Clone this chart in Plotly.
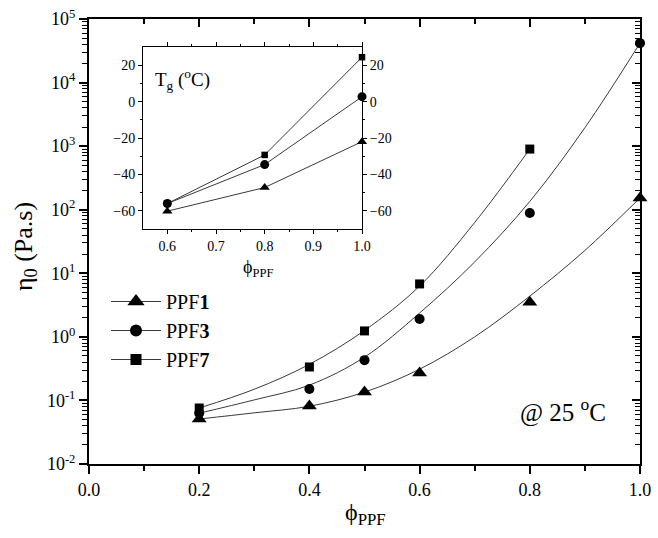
import plotly.graph_objects as go

# ---------------- data ----------------
phi_ppf1 = [0.2, 0.4, 0.5, 0.6, 0.8, 1.0]
eta_ppf1 = [0.051, 0.082, 0.136, 0.27, 3.5, 153]

phi_ppf3 = [0.2, 0.4, 0.5, 0.6, 0.8, 1.0]
eta_ppf3 = [0.063, 0.151, 0.43, 1.91, 89, 41700]

phi_ppf7 = [0.2, 0.4, 0.5, 0.6, 0.8]
eta_ppf7 = [0.076, 0.336, 1.24, 6.8, 900]

# fitted curves
fit_phi_long = [0.2, 0.3, 0.4, 0.5, 0.6, 0.7, 0.8, 0.9, 1.0]
fit_ppf1 = [0.051, 0.0638, 0.081, 0.135, 0.31, 1.0, 4.37, 22.9, 153]
fit_ppf3 = [0.063, 0.102, 0.174, 0.48, 2.37, 15.1, 135, 1950, 41700]
fit_phi_short = [0.2, 0.3, 0.4, 0.5, 0.6, 0.7, 0.8]
fit_ppf7 = [0.076, 0.15, 0.37, 1.26, 6.3, 63, 900]

# inset: glass transition temperature
tg_phi = [0.6, 0.8, 1.0]
tg_ppf1 = [-60.2, -47.2, -22.0]
tg_ppf3 = [-56.0, -34.6, 2.7]
tg_ppf7 = [-56.0, -29.3, 24.4]

x_ticks = [0.0, 0.2, 0.4, 0.6, 0.8, 1.0]
x_ticktext = ["0.0", "0.2", "0.4", "0.6", "0.8", "1.0"]
y_exponents = [-2, -1, 0, 1, 2, 3, 4, 5]
inset_x_ticks = [0.6, 0.7, 0.8, 0.9, 1.0]
inset_x_ticktext = ["0.6", "0.7", "0.8", "0.9", "1.0"]
inset_y_ticks = [-60, -40, -20, 0, 20]

series_names = ["PPF<b>1</b>", "PPF<b>3</b>", "PPF<b>7</b>"]
symbols = ["triangle-up", "circle", "square"]

# ---------------- figure ----------------
FONT = "Liberation Serif"
LINE_COL = "#3a3a3a"
W, H = 658, 538
L, R, T, B = 89, 18, 19, 74
PW, PH = W - L - R, H - T - B


def px(xp):
    return (xp - L) / PW


def py(yp):
    return (H - B - yp) / PH


def tf(size):
    return dict(family=FONT, size=size, color="black")


fig = go.Figure()

# fitted lines
for xs, ys in [(fit_phi_long, fit_ppf1), (fit_phi_long, fit_ppf3), (fit_phi_short, fit_ppf7)]:
    fig.add_trace(go.Scatter(x=xs, y=ys, mode="lines", line=dict(color=LINE_COL, width=1, shape="spline", smoothing=1.0),
                             showlegend=False, hoverinfo="skip", xaxis="x", yaxis="y"))

marker_sizes = [13, 10, 9]
for (xs, ys), sym, sz in zip([(phi_ppf1, eta_ppf1), (phi_ppf3, eta_ppf3), (phi_ppf7, eta_ppf7)], symbols, marker_sizes):
    fig.add_trace(go.Scatter(x=xs, y=ys, mode="markers", marker=dict(symbol=sym, size=sz, color="black"),
                             showlegend=False, cliponaxis=False, xaxis="x", yaxis="y"))

# legend entries
for name, sym, sz in zip(series_names, symbols, marker_sizes):
    fig.add_trace(go.Scatter(x=[None], y=[None], mode="lines+markers", name=name,
                             line=dict(color=LINE_COL, width=1),
                             marker=dict(symbol=sym, size=sz + 2, color="black"), xaxis="x", yaxis="y"))

# dummies for mirrored axes
fig.add_trace(go.Scatter(x=[None], y=[None], xaxis="x2", yaxis="y2", showlegend=False, hoverinfo="skip"))

# inset traces (PPF7 first so circle lies over it)
for ys, sym, sz in [(tg_ppf7, "square", 6.5), (tg_ppf3, "circle", 9), (tg_ppf1, "triangle-up", 9)]:
    fig.add_trace(go.Scatter(x=tg_phi, y=ys, mode="lines+markers", line=dict(color=LINE_COL, width=1),
                             marker=dict(symbol=sym, size=sz, color="black"), showlegend=False,
                             cliponaxis=False, xaxis="x3", yaxis="y3"))
fig.add_trace(go.Scatter(x=[None], y=[None], xaxis="x3", yaxis="y4", showlegend=False, hoverinfo="skip"))

minor_log = [m * 10.0 ** k for k in range(-2, 5) for m in range(2, 10)]
axis_common = dict(showgrid=False, zeroline=False, showline=True, linecolor="black", tickcolor="black",
                   automargin=False)

fig.update_layout(
    width=W, height=H,
    margin=dict(l=L, r=R, t=T, b=B, autoexpand=False),
    plot_bgcolor="white", paper_bgcolor="white",
    font=dict(family=FONT, color="black"),
    showlegend=True,
    legend=dict(x=px(106), y=py(282), xanchor="left", yanchor="top", bgcolor="rgba(0,0,0,0)",
                font=tf(20), itemwidth=50, tracegroupgap=0),
    xaxis=dict(**axis_common, range=[0, 1], domain=[0, 1], anchor="y", linewidth=2,
               tickvals=x_ticks, ticktext=x_ticktext, ticks="outside", ticklen=8, tickwidth=1.5,
               tickfont=tf(18),
               minor=dict(tickvals=[0.1, 0.3, 0.5, 0.7, 0.9], ticks="outside", ticklen=5, tickwidth=1.5, tickcolor="black")),
    xaxis2=dict(**axis_common, range=[0, 1], overlaying="x", side="top", anchor="y", linewidth=2,
                tickvals=x_ticks, ticks="inside", ticklen=8, tickwidth=1.5, showticklabels=False,
                minor=dict(tickvals=[0.1, 0.3, 0.5, 0.7, 0.9], ticks="inside", ticklen=5, tickwidth=1.5, tickcolor="black")),
    yaxis=dict(**axis_common, type="log", range=[-2, 5], domain=[0, 1], anchor="x", linewidth=2,
               tickvals=[10.0 ** e for e in y_exponents],
               ticktext=["10<sup>%d</sup>" % e for e in y_exponents],
               ticks="outside", ticklen=8, tickwidth=1.5, tickfont=tf(18),
               minor=dict(tickvals=minor_log, ticks="outside", ticklen=5, tickwidth=1.2, tickcolor="black")),
    yaxis2=dict(**axis_common, type="log", range=[-2, 5], overlaying="y", side="right", anchor="x", linewidth=2,
                tickvals=[10.0 ** e for e in y_exponents], ticks="inside", ticklen=8, tickwidth=1.5,
                showticklabels=False,
                minor=dict(tickvals=minor_log, ticks="inside", ticklen=5, tickwidth=1.2, tickcolor="black")),
    xaxis3=dict(**axis_common, range=[0.55, 1.0], domain=[px(143), px(362)], anchor="y3", linewidth=1,
                mirror="ticks", tickvals=inset_x_ticks, ticktext=inset_x_ticktext, ticks="outside",
                ticklen=4, tickwidth=1, tickfont=tf(14),
                minor=dict(tickvals=[0.65, 0.75, 0.85, 0.95], ticks="outside", ticklen=2, tickcolor="black")),
    yaxis3=dict(**axis_common, range=[-70, 30], domain=[py(229), py(47)], anchor="x3", side="left", linewidth=1,
                mirror=True, tickvals=inset_y_ticks, ticks="outside", ticklen=4, tickwidth=1,
                tickfont=tf(14),
                minor=dict(tickvals=[-50, -30, -10, 10], ticks="outside", ticklen=2, tickcolor="black")),
    yaxis4=dict(**axis_common, range=[-70, 30], overlaying="y3", anchor="x3", side="right", linewidth=1,
                tickvals=inset_y_ticks, ticks="outside", ticklen=4, tickwidth=1, tickfont=tf(14),
                minor=dict(tickvals=[-50, -30, -10, 10], ticks="outside", ticklen=2, tickcolor="black")),
)

annots = [
    dict(text="@ 25 <sup>o</sup>C", x=px(563), y=py(410), size=25),
    dict(text="T<sub>g</sub> (<sup>o</sup>C)", x=px(182), y=py(79), size=19),
    dict(text="ϕ<sub>PPF</sub>", x=px(258), y=py(268), size=18),
    dict(text="ϕ<sub>PPF</sub>", x=px(365), y=py(514), size=24),
]
for a in annots:
    fig.add_annotation(text=a["text"], x=a["x"], y=a["y"], xref="paper", yref="paper", showarrow=False,
                       xanchor="center", yanchor="middle", font=tf(a["size"]))
fig.add_annotation(text="η<sub>0</sub> (Pa.s)", x=px(25), y=py(247), xref="paper", yref="paper", showarrow=False,
                   textangle=-90, xanchor="center", yanchor="middle", font=tf(26))

fig.write_html("out.html", config={"displayModeBar": False},
               post_script="document.body.style.margin='0px';")
